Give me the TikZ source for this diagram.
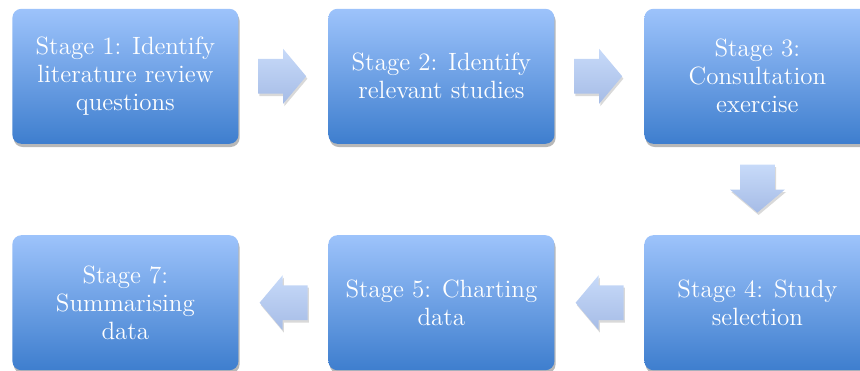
\documentclass[tikz,border=0pt]{standalone}
\usepackage{tikz}
\usetikzlibrary{shapes.arrows,shadows,calc}
\definecolor{boxtop}{RGB}{157,195,251}
\definecolor{boxbottom}{RGB}{62,126,206}
\definecolor{arrtop}{RGB}{199,218,249}
\definecolor{arrbottom}{RGB}{166,188,230}

\begin{document}
\begin{tikzpicture}[
		stage/.style = {
			rectangle,minimum width=113pt,minimum height=67.5pt,rounded corners=4.5pt,
			top color=boxtop,bottom color=boxbottom,
			drop shadow={shadow xshift=0.6pt,shadow yshift=-1.6pt,opacity=.28,fill=black},
			text=white,align=center,inner sep=0pt,
			font=\fontsize{12.5}{14}\selectfont
		},
		flow/.style = {
			single arrow,minimum height=24pt,inner xsep=0pt,inner ysep=8.5pt,anchor=tail,
			single arrow head extend=5pt,single arrow tip angle=100,
			top color=arrtop,bottom color=arrbottom,
			drop shadow={shadow xshift=0.6pt,shadow yshift=-1.2pt,opacity=.15,fill=black}
		},
		flowdown/.style = {flow,shape border rotate=270,inner xsep=8.5pt,inner ysep=0pt},
		flowleft/.style = {flow,shape border rotate=180}]
		\useasboundingbox (0,0) rectangle (430pt,-185pt);
		\matrix[anchor=north west,inner sep=0pt,row sep=45.5pt,column sep=45pt] at (6pt,-4pt) {
			\node    [stage] (s1)	{Stage 1: Identify\\literature review\\questions}; &
			\node    [stage] (s2)	{Stage 2: Identify\\relevant studies}; &
			\node    [stage] (s3)	{Stage 3:\\Consultation\\exercise}; \\
			\node    [stage] (s7)	{Stage 7:\\Summarising\\data}; &
			\node    [stage] (s5)	{Stage 5: Charting\\data}; &
			\node    [stage] (s4)	{Stage 4: Study\\selection}; \\
		};
		\node[flow]     (a12) at ($(s1.east)+(9.5pt,0)$) {};
		\node[flow]     (a23) at ($(s2.east)+(9.5pt,0)$) {};
		\node[flowdown] (a34) at ($(s3.south)+(0,-10pt)$) {};
		\node[flowleft] (a45) at ($(s4.west)+(-10pt,0)$) {};
		\node[flowleft] (a57) at ($(s5.west)+(-10pt,0)$) {};
	\end{tikzpicture}
\end{document}
